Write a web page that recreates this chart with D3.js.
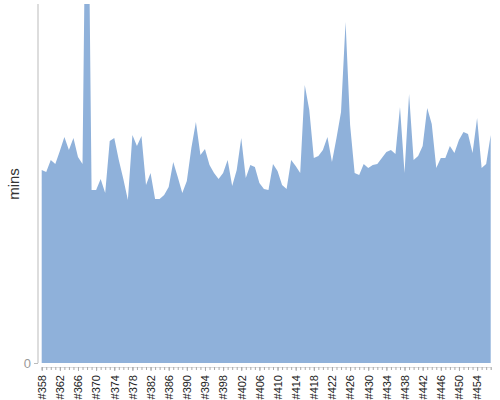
<!DOCTYPE html>
<html>
<head>
<meta charset="utf-8">
<script src="https://cdn.jsdelivr.net/npm/d3@7"></script>
<style>
	body { margin: 0; background: #fff; }
	svg { display: block; font-family: "Liberation Sans", Arial, sans-serif; }
</style>
</head>
<body>
<div class="area-chart"></div>
<script>
// game ids #358 .. #457
const firstGame = 358, lastGame = 457;
const games = d3.range(firstGame, lastGame + 1).map(n => "#" + n);

// minutes per game (game #367 runs off the top)
const mins = [
	64.3, 63.7, 67.7, 66.3, 70.7, 75.3, 71, 75, 68.7, 66.3,
	203, 57.7, 57.7, 61.3, 56.7, 74, 75, 67.7, 61.3, 54.3,
	76, 72.3, 75.7, 59.3, 63.3, 54.7, 54.7, 56, 58.7, 67,
	62, 56.7, 60.7, 71.7, 80.3, 69.3, 71.3, 66, 63.3, 61.3,
	63.3, 67.7, 59, 64.3, 75, 61.7, 66, 65.3, 60, 58,
	57.7, 66.3, 64, 59.3, 58, 67.7, 65.7, 63.3, 92.7, 84.3,
	68.3, 69, 71, 75.3, 67, 75, 83.7, 113.7, 79.3, 63.3,
	62.7, 66.3, 65, 66, 66.3, 68.3, 70.3, 71, 69.7, 85.3,
	63.3, 89.7, 67.7, 69, 72.3, 85, 79.7, 65, 68.3, 68.3,
	72.3, 70, 74.3, 77, 76.3, 70, 81.7, 65, 66.3, 76
];

const tickLabels = [
	"#358", "#362", "#366", "#370", "#374", "#378", "#382", "#386", "#390",
	"#394", "#398", "#402", "#406", "#410", "#414", "#418", "#422", "#426",
	"#430", "#434", "#438", "#442", "#446", "#450", "#454"
];

const yTicks = [0];
const yMax = 120;

(function() {
	const width = 500, height = 400;
	const plot = {left: 38, top: 3, bottom: 363, right: 491};

	const data = games.map((g, i) => ({game: g, mins: mins[i]}));

	const x = d3.scalePoint()
		.domain(games)
		.range([41.7, 490.7]);

	const y = d3.scaleLinear()
		.domain([0, yMax])
		.range([plot.bottom, plot.top]);

	const svg = d3.select(".area-chart").append("svg")
		.attr("width", width)
		.attr("height", height);

	svg.append("clipPath")
		.attr("id", "plot-clip")
		.append("rect")
		.attr("x", plot.left)
		.attr("y", plot.top + 1)
		.attr("width", plot.right - plot.left)
		.attr("height", plot.bottom - plot.top - 1);

	const area = d3.area()
		.x(d => x(d.game))
		.y0(y(0))
		.y1(d => y(d.mins));

	svg.append("path")
		.datum(data)
		.attr("clip-path", "url(#plot-clip)")
		.attr("fill", "#8fb1da")
		.attr("d", area);

	// y axis: plain line with a single 0 tick
	const yAxis = d3.axisLeft(y)
		.tickValues(yTicks)
		.tickSize(4)
		.tickPadding(3);

	const gy = svg.append("g")
		.attr("class", "y axis")
		.attr("transform", "translate(" + plot.left + ",0)")
		.call(yAxis);

	gy.select(".domain")
		.attr("d", "M0," + (plot.top + 1) + "V" + plot.bottom)
		.attr("stroke", "#bbb");

	gy.selectAll(".tick line").attr("stroke", "#bbb");
	gy.selectAll(".tick text")
		.attr("fill", "#999")
		.style("font-size", "13px");

	svg.append("text")
		.attr("transform", "translate(14," + 184 + ") rotate(-90)")
		.attr("dy", "0.35em")
		.style("text-anchor", "middle")
		.style("font-size", "15px")
		.attr("fill", "#333")
		.text("mins");

	// x axis: minor tick for every game, labels every fourth
	const axisY = plot.bottom + 4;

	const minorAxis = d3.axisBottom(x)
		.tickValues(games)
		.tickSize(3)
		.tickFormat("");

	const gMinor = svg.append("g")
		.attr("class", "x minor")
		.attr("transform", "translate(0," + axisY + ")")
		.call(minorAxis);

	gMinor.select(".domain").attr("stroke", "#ddd");
	gMinor.selectAll(".tick line").attr("stroke", "#aaa");

	const xAxis = d3.axisBottom(x)
		.tickValues(tickLabels)
		.tickSize(4);

	const gx = svg.append("g")
		.attr("class", "x axis")
		.attr("transform", "translate(0," + axisY + ")")
		.call(xAxis);

	gx.select(".domain").remove();
	gx.selectAll(".tick line").attr("stroke", "#aaa");
	gx.selectAll(".tick text")
		.attr("fill", "#222")
		.style("font-size", "11px")
		.style("text-anchor", "end")
		.attr("x", -8)
		.attr("y", 0)
		.attr("dy", "0.35em")
		.attr("transform", "rotate(-90)");
})();
</script>
</body>
</html>
